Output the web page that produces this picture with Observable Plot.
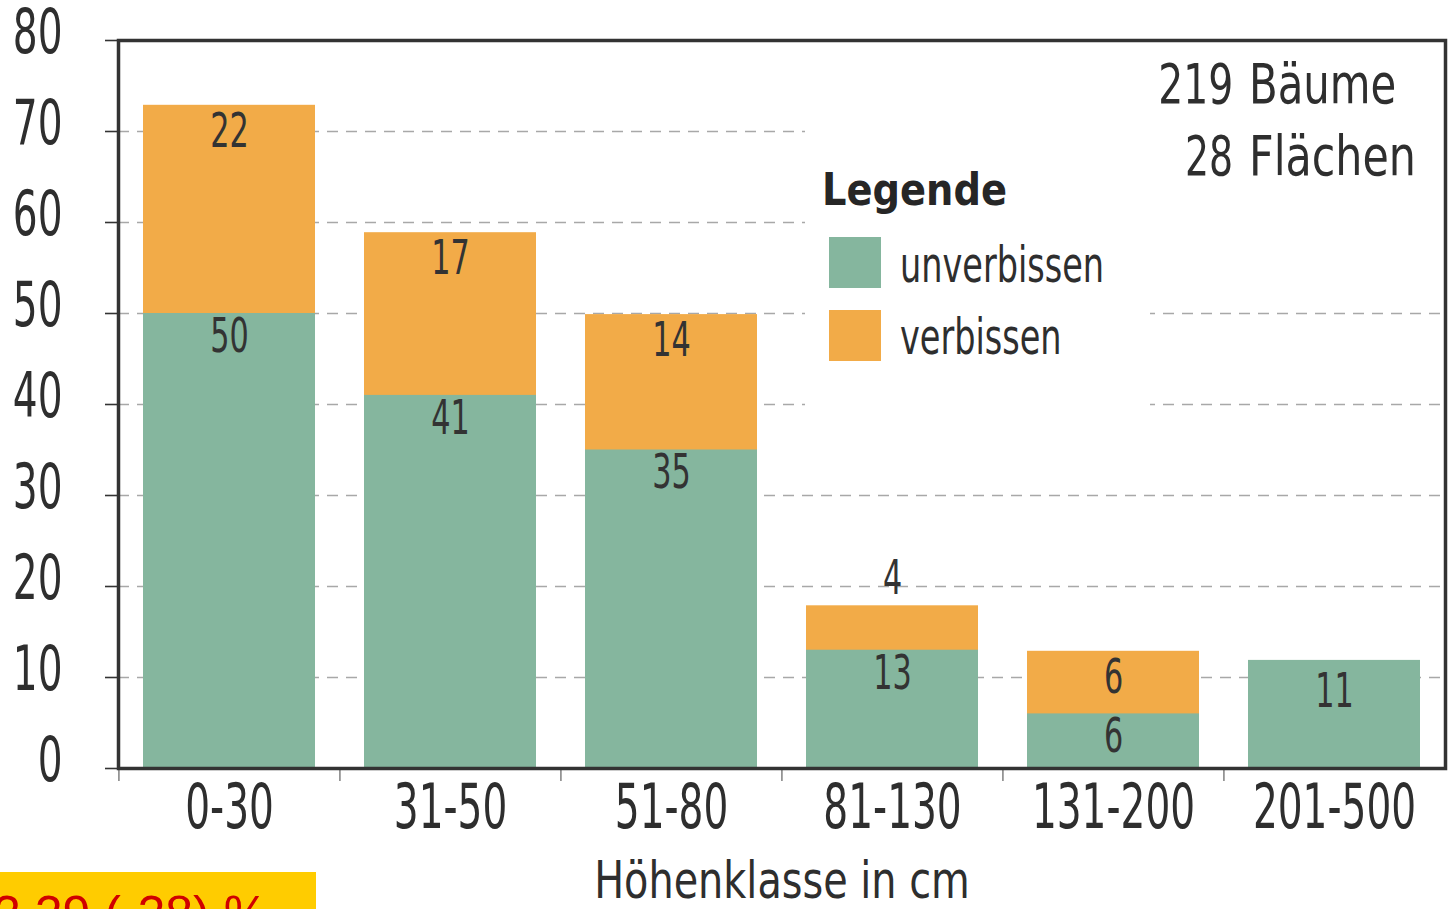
<!DOCTYPE html>
<html>
<head>
<meta charset="utf-8">
<script src="https://cdn.jsdelivr.net/npm/d3@7"></script>
<script src="https://cdn.jsdelivr.net/npm/@observablehq/plot@0.6"></script>
<style>
  html, body { margin: 0; padding: 0; background: #fff; }
  #wrap { position: relative; width: 1449px; height: 909px; overflow: hidden;
          font-family: "DejaVu Sans Condensed", "Liberation Sans Narrow", sans-serif; color: #2e2e2e; }
  #chart { position: absolute; left: 0; top: 0; }
  .sq { display: inline-block; white-space: nowrap; }
  #legend { position: absolute; left: 805px; top: 100px; width: 345px; height: 312px; background: #fff; }
  #legend .title { position: absolute; left: 17px; top: 68px; font-weight: bold; font-size: 44px; line-height: 44px; color: #262626;
                   transform: scaleX(0.97); transform-origin: left center; }
  #legend .sw { position: absolute; left: 24px; width: 52px; height: 51px; }
  #legend .lab { position: absolute; left: 95px; font-size: 50px; line-height: 50px; transform: scaleX(0.745); transform-origin: left center; }
  #info { position: absolute; left: 1150px; top: 44px; width: 290px; height: 196px; background: #fff; }
  #info .num { position: absolute; right: 207px; font-size: 56px; line-height: 56px; transform-origin: right center; }
  #info .word { position: absolute; left: 99px; font-size: 56px; line-height: 56px; transform-origin: left center; }
  #badge { position: absolute; left: 0; top: 872px; width: 316px; height: 60px; background: #ffcc00; overflow: hidden; }
  #badge span { position: absolute; left: -7px; top: 17px; font-family: "Liberation Sans", Arial, sans-serif; font-size: 50px; line-height: 50px; color: #d00000; white-space: nowrap; }
</style>
</head>
<body>
<div id="wrap">
  <div id="chart"></div>
  <div id="legend"></div>
  <div id="info"></div>
  <div id="badge"><span></span></div>
</div>
<script>
// ---- data ----
const categories = ["0-30", "31-50", "51-80", "81-130", "131-200", "201-500"];
const unverbissen = [50, 41, 35, 13, 6, 11];
const verbissen = [22, 17, 14, 4, 6, 0];
const statuses = ["unverbissen", "verbissen"];
const statusColors = ["#85b69e", "#f2ab48"];
const yTicks = [0, 10, 20, 30, 40, 50, 60, 70, 80];
const gridTicks = [10, 20, 30, 40, 50, 60, 70];
const xTitle = "Höhenklasse in cm";
const legendTitle = "Legende";
const infoNumbers = ["219", "28"];
const infoWords = ["Bäume", "Flächen"];
const badgeText = "2.29 (-28) %";

// ---- table ----
const rows = categories.flatMap((c, i) => [
  {klasse: c, status: statuses[0], n: unverbissen[i], base: 0},
  {klasse: c, status: statuses[1], n: verbissen[i], base: unverbissen[i]}
]).filter(d => d.n > 0);
const labels = rows.map(d => ({...d, top: d.base + d.n}));

const W = 1449, H = 909, ML = 118, MR = 4, MT = 40, MB = 141;
const step = (W - ML - MR) / categories.length;
const FONT = '"DejaVu Sans Condensed", sans-serif';
const INK = "#2e2e2e";

const chart = Plot.plot({
  width: W, height: H,
  marginLeft: ML, marginRight: MR, marginTop: MT, marginBottom: MB,
  style: {fontFamily: FONT, fontSize: "62px", color: INK, background: "transparent", overflow: "visible"},
  x: {domain: categories, paddingInner: 0.22, paddingOuter: 0.11, label: null},
  y: {domain: [0, 80], label: null},
  color: {domain: statuses, range: statusColors},
  marks: [
    Plot.ruleY(gridTicks, {stroke: "#a8a8a8", strokeWidth: 1.6, strokeDasharray: "11,8"}),
    Plot.barY(rows, {x: "klasse", y: "n", fill: "status", insetTop: -8}),
    // y ticks and labels
    Plot.axisY({ticks: yTicks, tickSize: 13, tickFormat: () => "", stroke: "#333", strokeWidth: 1.6, label: null}),
    Plot.axisY({ticks: yTicks, tickSize: 0, tickPadding: 56, fontSize: 62, dy: -7, fill: INK, label: null}),
    // x labels and boundary ticks
    Plot.axisX({tickSize: 0, tickPadding: 15, fontSize: 62, fill: INK, label: null}),
    Plot.axisX({tickSize: 13, tickFormat: () => "", dx: -step / 2, stroke: "#777", strokeWidth: 1.4, label: null}),
    Plot.text([xTitle], {frameAnchor: "bottom", dy: 129, fontSize: 52, fill: INK, lineAnchor: "bottom"}),
    Plot.frame({stroke: "#333", strokeWidth: 3.5}),
    // value labels
    Plot.text(labels.filter(d => d.n >= 5 && d.status === statuses[0]), {x: "klasse", y: "top", text: d => String(d.n), dy: 23, fontSize: 48, fill: "#333", lineAnchor: "middle"}),
    Plot.text(labels.filter(d => d.n >= 5 && d.status === statuses[1]), {x: "klasse", y: "top", text: d => String(d.n), dy: 18, fontSize: 48, fill: "#333", lineAnchor: "middle"}),
    Plot.text(labels.filter(d => d.n < 5), {x: "klasse", y: "top", text: d => String(d.n), dy: -35, fontSize: 48, fill: "#333", lineAnchor: "middle"})
  ]
});
document.getElementById("chart").appendChild(chart);

// condense SVG texts (no narrow font installed): digits narrower than words
chart.querySelectorAll("text").forEach(t => {
  const s = t.textContent;
  if (!s) return;
  const k = /^[0-9\-]+$/.test(s) ? 0.70 : 0.85;
  const len = t.getComputedTextLength();
  if (len > 0) {
    t.setAttribute("textLength", (len * k).toFixed(1));
    t.setAttribute("lengthAdjust", "spacingAndGlyphs");
  }
});

// ---- legend ----
const legend = document.getElementById("legend");
const t = document.createElement("div");
t.className = "title sq"; t.textContent = legendTitle; legend.appendChild(t);
statuses.forEach((s, i) => {
  const sw = document.createElement("div"); sw.className = "sw";
  sw.style.top = (137 + i * 73) + "px"; sw.style.background = statusColors[i];
  const lb = document.createElement("div"); lb.className = "lab sq"; lb.textContent = s;
  lb.style.top = (140 + i * 72) + "px";
  legend.appendChild(sw); legend.appendChild(lb);
});

// ---- info ----
const info = document.getElementById("info");
infoNumbers.forEach((n, i) => {
  const top = (12 + i * 72) + "px";
  const a = document.createElement("div"); a.className = "num sq"; a.textContent = n;
  a.style.top = top; a.style.transform = "scaleX(" + (i === 0 ? 0.78 : 0.75) + ")";
  const b = document.createElement("div"); b.className = "word sq"; b.textContent = infoWords[i];
  b.style.top = top; b.style.transform = "scaleX(" + (i === 0 ? 0.83 : 0.85) + ")";
  info.appendChild(a); info.appendChild(b);
});

document.querySelector("#badge span").textContent = badgeText;
</script>
</body>
</html>
